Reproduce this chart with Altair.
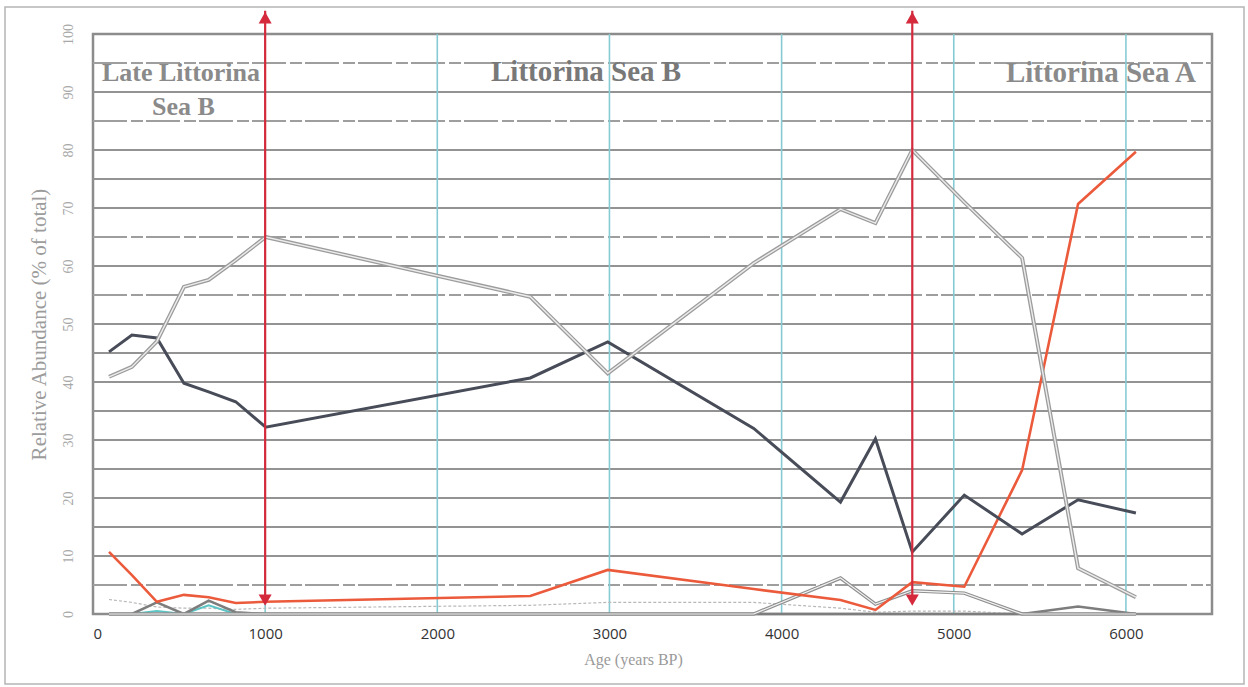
import altair as alt
import pandas as pd

# ---- data ----
ages = [93, 226, 371, 528, 672, 829, 1003, 2540, 2990, 3838, 4342, 4545, 4759, 5061, 5397, 5722, 6058]
light_grey = [40.9, 42.6, 47.0, 56.4, 57.6, 61.0, 65.0, 54.7, 41.5, 60.5, 69.8, 67.4, 80.0, 71.0, 61.4, 7.9, 2.9]
dark = [45.2, 48.1, 47.6, 39.8, 38.3, 36.6, 32.2, 40.7, 46.9, 32.0, 19.3, 30.2, 10.7, 20.5, 13.8, 19.7, 17.4]
red = [10.7, 6.7, 2.1, 3.3, 2.9, 1.9, 2.1, 3.1, 7.6, 4.3, 2.4, 0.7, 5.5, 4.7, 24.8, 70.7, 79.7]
mid_grey = [0, 0, 2.0, 0, 2.3, 0.3, 0, 0, 0, 0, 0, 0, 0, 0, 0, 1.3, 0]
hollow_low = [0, 0, 0, 0, 0, 0, 0, 0, 0, 0, 6.2, 1.7, 4.0, 3.6, 0, 0, 0]
teal = [0, 0, 0.5, 0, 1.5, 0, 0, 0, 0, 0, 0, 0, 0, 0, 0, 0, 0]
faint = [2.5, 2.0, 1.2, 1.0, 1.0, 0.8, 1.0, 1.5, 2.0, 2.0, 1.0, 0.3, 0.5, 0.5, 0, 0, 0]

x_ticks = [0, 1000, 2000, 3000, 4000, 5000, 6000]
y_ticks = [0, 10, 20, 30, 40, 50, 60, 70, 80, 90, 100]
grid_solid = [10, 15, 20, 25, 30, 35, 40, 45, 50, 60, 70, 75, 80, 90]
grid_dashed = [5, 55, 65, 85, 95]
teal_lines = [1000, 2000, 3000, 4000, 5000, 6000]

arrow_ages = [1000, 4759]
arrow_top = [104.0, 104.0]
arrow_bottom = [2.0, 2.0]
head_top = [102.8, 102.8]
head_bottom = [2.4, 2.4]

region_labels = ["Late Littorina", "Sea B", "Littorina Sea B", "Littorina Sea A"]
region_x = [511, 525, 2864, 5855]
region_y = [93.3, 87.4, 93.4, 93.2]
region_size = [26, 26, 29, 29]
region_color = ["#8a8a8a", "#8a8a8a", "#787878", "#8a8a8a"]

X = alt.Scale(domain=[0, 6500], nice=False, zero=False)
Y = alt.Scale(domain=[0, 100], nice=False)


def series_df(vals):
    return pd.DataFrame({"age": ages, "val": vals})


def line_layer(vals, color, width, dash=None):
    kw = dict(color=color, strokeWidth=width, strokeJoin="miter")
    if dash:
        kw["strokeDash"] = dash
    return alt.Chart(series_df(vals)).mark_line(**kw).encode(
        x=alt.X("age:Q", scale=X), y=alt.Y("val:Q", scale=Y)
    )


x_axis = alt.Axis(
    values=x_ticks, format="d", grid=False, ticks=False, domain=False,
    labelFont="Open Sans", labelFontSize=15, labelColor="#333333", labelPadding=12,
    title="Age (years BP)", titleFont="Liberation Serif", titleFontSize=16,
    titleFontWeight="normal", titleColor="#9a9a9a", titlePadding=10, titleX=540,
    titleAlign="center",
)
y_axis = alt.Axis(
    values=y_ticks, grid=False, ticks=False, domain=False,
    labelFont="Liberation Serif", labelFontSize=14, labelColor="#a8a8a8",
    labelAngle=270, labelPadding=18,
    title="Relative Abundance (% of total)", titleFont="Liberation Serif",
    titleFontSize=21, titleFontWeight="normal", titleColor="#9c9c9c", titlePadding=12,
)

hgrid = alt.Chart(pd.DataFrame({"g": grid_solid})).mark_rule(
    color="#939393", strokeWidth=2
).encode(
    y=alt.Y("g:Q", scale=Y, axis=y_axis),
    x=alt.value(0), x2=alt.value(1119),
)
hgrid_d = alt.Chart(pd.DataFrame({"g": grid_dashed})).mark_rule(
    color="#9e9e9e", strokeWidth=2, strokeDash=[34, 4, 12, 3]
).encode(
    y=alt.Y("g:Q", scale=Y), x=alt.value(0), x2=alt.value(1119),
)
vgrid = alt.Chart(pd.DataFrame({"t": teal_lines})).mark_rule(
    color="#86cbd3", strokeWidth=1.6
).encode(
    x=alt.X("t:Q", scale=X, axis=x_axis),
    y=alt.value(0), y2=alt.value(580),
)

# outer frame (decoration)
frame = alt.Chart(pd.DataFrame({"a": [0]})).mark_rect(
    filled=False, stroke="#b5b5b5", strokeWidth=1.5
).encode(
    x=alt.value(-88), x2=alt.value(1151), y=alt.value(-27), y2=alt.value(650)
)

faint_l = line_layer(faint, "#b8b8b8", 1.2, [3, 2])
teal_l = line_layer(teal, "#5cc4c4", 2)
mid_l = line_layer(mid_grey, "#7d7d7d", 2.6)
hollow_o = line_layer(hollow_low, "#8f8f8f", 3.5)
hollow_i = line_layer(hollow_low, "#f2f2f2", 1.2)
red_l = line_layer(red, "#ec5a3c", 2.6)
dark_l = line_layer(dark, "#474c58", 3)
light_o = line_layer(light_grey, "#9c9c9c", 4)
light_i = line_layer(light_grey, "#ececec", 1.4)

arrows_df = pd.DataFrame({
    "age": arrow_ages, "top": arrow_top, "bot": arrow_bottom,
    "ht": head_top, "hb": head_bottom,
})
arrow_shaft = alt.Chart(arrows_df).mark_rule(color="#d42a3c", strokeWidth=2.2).encode(
    x=alt.X("age:Q", scale=X), y=alt.Y("top:Q", scale=Y), y2="bot:Q"
)
head_up = alt.Chart(arrows_df).mark_point(
    shape="triangle-up", filled=True, color="#d42a3c", size=170, opacity=1
).encode(x=alt.X("age:Q", scale=X), y=alt.Y("ht:Q", scale=Y))
head_down = alt.Chart(arrows_df).mark_point(
    shape="triangle-down", filled=True, color="#d42a3c", size=170, opacity=1
).encode(x=alt.X("age:Q", scale=X), y=alt.Y("hb:Q", scale=Y))

labels_df = pd.DataFrame({
    "label": region_labels, "x": region_x, "y": region_y, "c": region_color,
    "s": region_size,
})
labels = alt.Chart(labels_df).mark_text(
    font="Liberation Serif", fontWeight="bold", align="center", baseline="middle",
).encode(
    x=alt.X("x:Q", scale=X), y=alt.Y("y:Q", scale=Y), text="label:N",
    color=alt.Color("c:N", scale=None),
    size=alt.Size("s:Q", scale=None),
)

chart = alt.layer(
    hgrid, hgrid_d, vgrid, frame,
    faint_l, teal_l, mid_l, hollow_o, hollow_i,
    red_l, dark_l, light_o, light_i,
    arrow_shaft, head_up, head_down, labels,
).properties(
    width=1119, height=580,
    padding={"left": 93, "top": 34, "right": 36, "bottom": 73},
    autosize=alt.AutoSizeParams(type="none"),
    background="white",
).configure_view(
    stroke="#8c8c8c", strokeWidth=2.5
)

chart.save("out.html", embed_options={"renderer": "svg", "actions": False})
